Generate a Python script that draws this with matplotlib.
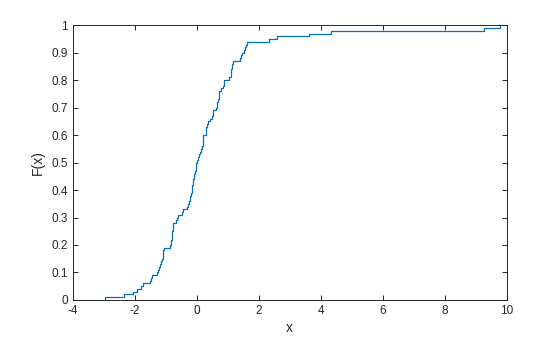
import numpy as np
import matplotlib
matplotlib.use("Agg")
import matplotlib.pyplot as plt

plt.rcParams['font.family'] = ['Liberation Sans', 'DejaVu Sans']

# Sample values (sorted) read from the empirical CDF
samples = [
    -2.96, -2.35, -2.06, -1.93, -1.80, -1.74, -1.52, -1.48, -1.43, -1.28,
    -1.24, -1.21, -1.18, -1.15, -1.13, -1.10, -1.09, -1.08, -1.06, -0.86,
    -0.84, -0.83, -0.81, -0.80, -0.79, -0.78, -0.77, -0.76, -0.66, -0.64,
    -0.62, -0.47, -0.45, -0.31, -0.27, -0.25, -0.23, -0.21, -0.20, -0.17,
    -0.16, -0.14, -0.12, -0.11, -0.10, -0.09, -0.06, -0.04, -0.03, -0.01,
    0.02, 0.04, 0.06, 0.10, 0.13, 0.17, 0.185, 0.19, 0.19, 0.195,
    0.31, 0.31, 0.31, 0.32, 0.35, 0.42, 0.49, 0.51, 0.52, 0.61,
    0.64, 0.66, 0.67, 0.70, 0.71, 0.72, 0.79, 0.86, 0.87, 0.88,
    1.04, 1.09, 1.11, 1.11, 1.12, 1.12, 1.17, 1.38, 1.42, 1.45,
    1.53, 1.54, 1.59, 1.63, 2.32, 2.60, 3.63, 4.32, 9.25, 9.77,
]
x_ticks = [-4, -2, 0, 2, 4, 6, 8, 10]
y_ticks = [0, 0.1, 0.2, 0.3, 0.4, 0.5, 0.6, 0.7, 0.8, 0.9, 1]
y_tick_labels = ['0', '0.1', '0.2', '0.3', '0.4', '0.5', '0.6', '0.7', '0.8', '0.9', '1']

xs = np.sort(np.array(samples))
n = len(xs)
xe = np.concatenate([[xs[0]], xs])
fe = np.concatenate([[0.0], np.arange(1, n + 1) / n])

fig = plt.figure(figsize=(5.6, 3.37), dpi=100)
ax = fig.add_axes([0.13, 0.11, 0.775, 0.815])
ax.step(xe, fe, where='post', color='#0072BD', linewidth=0.9)

ax.set_xlim(-4, 10)
ax.set_ylim(0, 1)
ax.set_xticks(x_ticks)
ax.set_xticklabels([str(t) for t in x_ticks])
ax.set_yticks(y_ticks)
ax.set_yticklabels(y_tick_labels)

edge = '#262626'
for s in ax.spines.values():
    s.set_color(edge)
    s.set_linewidth(0.7)
ax.tick_params(direction='in', length=3.5, width=0.7, colors=edge,
               labelsize=8.5, top=True, right=True, pad=3.5)
for lab in ax.get_xticklabels() + ax.get_yticklabels():
    lab.set_color('#262626')

ax.set_xlabel('x', fontsize=10, color='#262626', labelpad=3)
ax.set_ylabel('F(x)', fontsize=10, color='#262626', labelpad=5)

fig.savefig('out.png', dpi=100, facecolor='white')
